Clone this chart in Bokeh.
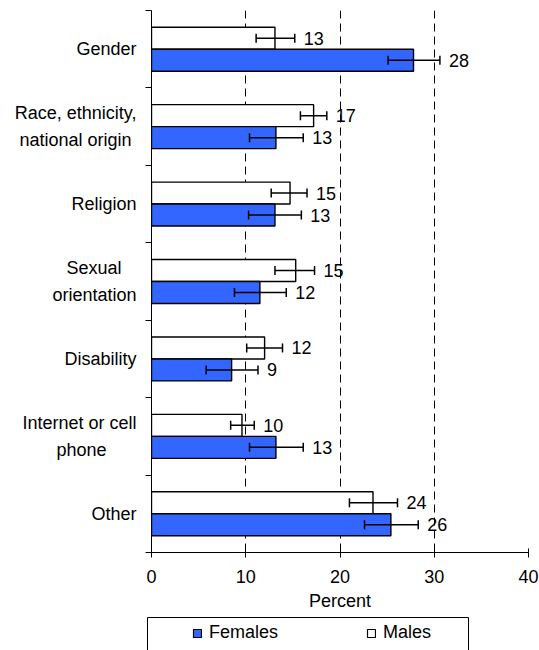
from bokeh.plotting import figure
from bokeh.layouts import column
from bokeh.models import (Range1d, FixedTicker, ColumnDataSource, Whisker, TeeHead,
                          Legend, LegendItem, BoxAnnotation)
from bokeh.embed import file_html
from bokeh.resources import INLINE
from bokeh.core.properties import value

# ---- data ----
categories = ["Gender", "Race, ethnicity,\nnational origin", "Religion",
              "Sexual\norientation", "Disability", "Internet or cell\nphone", "Other"]
females = [27.8, 13.2, 13.1, 11.5, 8.5, 13.2, 25.4]
females_lo = [25.1, 10.4, 10.3, 8.8, 5.8, 10.4, 22.6]
females_hi = [30.6, 16.1, 15.9, 14.3, 11.3, 16.1, 28.3]
females_labels = ["28", "13", "13", "12", "9", "13", "26"]
males = [13.1, 17.2, 14.7, 15.3, 12.0, 9.6, 23.5]
males_lo = [11.1, 15.8, 12.7, 13.1, 10.1, 8.4, 21.0]
males_hi = [15.2, 18.6, 16.5, 17.3, 13.9, 10.9, 26.1]
males_labels = ["13", "17", "15", "15", "12", "10", "24"]
x_ticks = [0, 10, 20, 30, 40]
x_title = "Percent"
series_names = ["Females", "Males"]

FONT = "Liberation Sans"
FS = "18px"
BLUE = "#3366FF"
NBSP = "\u00a0"


def centered_lines(lbl):
    """Pad the shorter line of a two-line label so the lines look centred
    when the axis right-aligns them (approximate Arial advance widths)."""
    lines = lbl.split("\n")
    if len(lines) == 1:
        return lbl
    w = {c: 0.556 for c in "abdeghnopqu0123456789"}
    w.update({"i": 0.222, "l": 0.222, "t": 0.278, "r": 0.333, "c": 0.5, "x": 0.5,
              "y": 0.5, "s": 0.5, " ": 0.278, ",": 0.278, "I": 0.278, "R": 0.722,
              "S": 0.667})
    widths = [sum(w.get(ch, 0.556) for ch in ln) for ln in lines]
    mx = max(widths)
    out = []
    for ln, wd in zip(lines, widths):
        n_pad = int(round((mx - wd) / 2 / 0.278))
        out.append(ln + NBSP * n_pad)
    return "\n".join(out)


n = len(categories)
centers = list(range(n))
half = 0.142
m_y = [c - half for c in centers]
f_y = [c + half for c in centers]

src_m = ColumnDataSource(dict(y=m_y, right=males, lo=males_lo, hi=males_hi, lab=males_labels))
src_f = ColumnDataSource(dict(y=f_y, right=females, lo=females_lo, hi=females_hi, lab=females_labels))

p = figure(width=539, height=616, output_backend="svg", toolbar_location=None,
           x_range=Range1d(0, 40), y_range=Range1d(n - 0.5, -0.5),
           min_border_left=151, min_border_right=11, min_border_top=10, min_border_bottom=64)
p.outline_line_color = None
p.background_fill_color = "white"
p.border_fill_color = "white"
p.frame_align = False

rm = p.hbar(y="y", right="right", left=0, height=2 * half, source=src_m,
            fill_color="white", line_color="black", line_width=1.4)
rf = p.hbar(y="y", right="right", left=0, height=2 * half, source=src_f,
            fill_color=BLUE, line_color="black", line_width=1.4)

for src in (src_m, src_f):
    w = Whisker(source=src, base="y", lower="lo", upper="hi", dimension="width",
                line_color="black", line_width=1.5, level="overlay",
                upper_head=TeeHead(size=9, line_color="black", line_width=1.5),
                lower_head=TeeHead(size=9, line_color="black", line_width=1.5))
    p.add_layout(w)
    p.text(x="hi", y="y", text="lab", source=src, x_offset=9, text_baseline="middle",
           text_align="left", text_font=value(FONT), text_font_size=FS, text_color="black")

# x axis
p.xaxis.ticker = FixedTicker(ticks=x_ticks)
p.xaxis.major_tick_in = 4
p.xaxis.major_tick_out = 5
p.xaxis.minor_tick_line_color = None
p.xaxis.axis_line_color = "black"
p.xaxis.major_tick_line_color = "black"
p.xaxis.major_label_text_font = FONT
p.xaxis.major_label_text_font_size = FS
p.xaxis.major_label_text_color = "black"
p.xaxis.major_label_standoff = 12
p.xaxis.axis_label = x_title
p.xaxis.axis_label_text_font = FONT
p.xaxis.axis_label_text_font_size = FS
p.xaxis.axis_label_text_font_style = "normal"
p.xaxis.axis_label_text_color = "black"
p.xaxis.axis_label_standoff = 5

# y axis: labels at category centres, ticks at category boundaries
p.yaxis.ticker = FixedTicker(ticks=centers, minor_ticks=[c - 0.5 for c in centers] + [n - 0.5])
p.yaxis.major_label_overrides = {c: centered_lines(lab) for c, lab in zip(centers, categories)}
p.yaxis.major_tick_in = 0
p.yaxis.major_tick_out = 0
p.yaxis.minor_tick_in = 0
p.yaxis.minor_tick_out = 6
p.yaxis.minor_tick_line_color = "black"
p.yaxis.axis_line_color = "black"
p.yaxis.major_label_text_font = FONT
p.yaxis.major_label_text_font_size = FS
p.yaxis.major_label_text_color = "black"
p.yaxis.major_label_text_line_height = 1.38
p.yaxis.major_label_standoff = 9

p.xgrid.grid_line_color = "black"
p.xgrid.grid_line_dash = "8 5"
p.xgrid.grid_line_width = 1
p.ygrid.visible = False

# ---- legend strip below the chart ----
p2 = figure(width=539, height=34, output_backend="svg", toolbar_location=None,
            x_range=Range1d(0, 539), y_range=Range1d(0, 34),
            x_axis_type=None, y_axis_type=None,
            min_border_left=0, min_border_right=0, min_border_top=0, min_border_bottom=0)
p2.outline_line_color = None
p2.background_fill_color = "white"
p2.border_fill_color = "white"
p2.grid.visible = False
p2.frame_align = False

# off-range dummy bars that only provide the legend swatches
lf = p2.hbar(y=[-100], right=[1], height=1, fill_color=BLUE, line_color="black", line_width=1.2)
lm = p2.hbar(y=[-100], right=[1], height=1, fill_color="white", line_color="black", line_width=1.2)

box = BoxAnnotation(left=147, right=468, top=33, bottom=-20,
                    fill_alpha=0, line_color="black", line_alpha=1, line_width=1)
p2.add_layout(box)

legend = Legend(items=[LegendItem(label=series_names[0], renderers=[lf]),
                       LegendItem(label=series_names[1], renderers=[lm])],
                location=(192, 7), orientation="horizontal", padding=0, margin=0,
                border_line_color=None, background_fill_alpha=0,
                glyph_width=10, glyph_height=10, label_height=20, label_width=150,
                label_standoff=7, spacing=7,
                label_text_font=FONT, label_text_font_size=FS, label_text_color="black")
p2.add_layout(legend)

layout = column(p, p2, spacing=0)
open("out.html", "w").write(file_html(layout, INLINE))
